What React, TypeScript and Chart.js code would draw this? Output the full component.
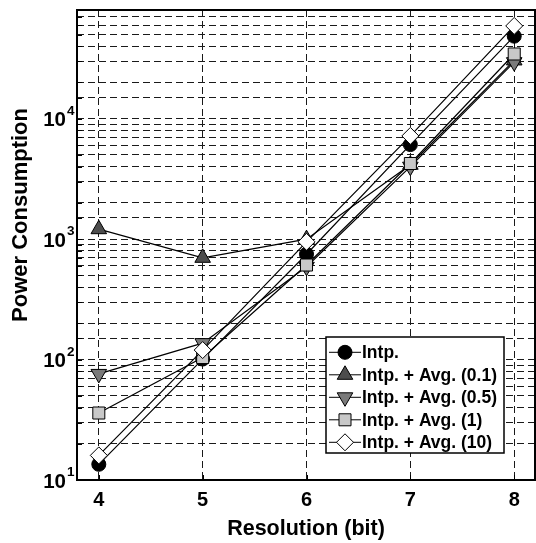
import React, { useEffect, useRef } from 'react';
import { Chart, registerables } from 'chart.js';
import { drawPoint } from 'chart.js/helpers';

Chart.register(...registerables);

// ---- data ----
const RESOLUTION = [4, 5, 6, 7, 8];
const INTP = [13.5, 101, 750, 6100, 48500];
const AVG_01 = [1210, 700, 1000, 4150, 30500];
const AVG_05 = [76, 137, 590, 4000, 29500];
const AVG_1 = [36, 104, 610, 4250, 34500];
const AVG_10 = [16, 120, 950, 7200, 59000];
const SERIES_LABELS = [
  'Intp.',
  'Intp. + Avg. (0.1)',
  'Intp. + Avg. (0.5)',
  'Intp. + Avg. (1)',
  'Intp. + Avg. (10)',
];
const Y_TICK_EXPONENTS = [1, 2, 3, 4];
const X_TITLE = 'Resolution (bit)';
const Y_TITLE = 'Power Consumption';

// ---- styles ----
const FONT = '"Liberation Sans", Arial, Helvetica, sans-serif';
const MARKERS = [
  { pointStyle: 'circle', rotation: 0, radius: 7, fill: '#000000' },
  { pointStyle: 'triangle', rotation: 0, radius: 9, fill: '#4d4d4d' },
  { pointStyle: 'triangle', rotation: 180, radius: 9, fill: '#7a7a7a' },
  { pointStyle: 'rect', rotation: 0, radius: 8.5, fill: '#c8c8c8' },
  { pointStyle: 'rectRot', rotation: 0, radius: 8.5, fill: '#ffffff' },
];
const SERIES = [INTP, AVG_01, AVG_05, AVG_1, AVG_10];

const decorPlugin = {
  id: 'decor',
  afterDraw(chart: any) {
    const { ctx, chartArea: ca, scales } = chart;
    const ys = scales.y;
    const xs = scales.x;
    ctx.save();
    ctx.strokeStyle = '#000';
    ctx.lineWidth = 1;
    ctx.setLineDash([]);
    // inner tick marks
    ys.ticks.forEach((t: any) => {
      const py = Math.round(ys.getPixelForValue(t.value)) + 0.5;
      ctx.beginPath();
      ctx.moveTo(ca.left, py);
      ctx.lineTo(ca.left + 5, py);
      ctx.stroke();
    });
    xs.ticks.forEach((t: any) => {
      const px = Math.round(xs.getPixelForValue(t.value)) + 0.5;
      ctx.beginPath();
      ctx.moveTo(px, ca.bottom);
      ctx.lineTo(px, ca.bottom - 5);
      ctx.stroke();
    });
    // frame
    ctx.lineWidth = 2;
    ctx.strokeRect(ca.left, ca.top, ca.right - ca.left, ca.bottom - ca.top);

    // y tick labels 10^n
    ctx.fillStyle = '#000';
    Y_TICK_EXPONENTS.forEach((p) => {
      const py = ys.getPixelForValue(Math.pow(10, p));
      ctx.font = `bold 20.5px ${FONT}`;
      ctx.textAlign = 'right';
      ctx.textBaseline = 'alphabetic';
      ctx.fillText('10', ca.left - 11, py + 7.5);
      ctx.font = `bold 13.5px ${FONT}`;
      ctx.textAlign = 'left';
      ctx.fillText(String(p), ca.left - 10, py - 4);
    });

    // y title
    ctx.save();
    ctx.translate(27, 215);
    ctx.rotate(-Math.PI / 2);
    ctx.font = `bold 22px ${FONT}`;
    ctx.textAlign = 'center';
    ctx.textBaseline = 'alphabetic';
    ctx.fillText(Y_TITLE, 0, 0);
    ctx.restore();

    // legend
    const bx = 326, by = 337, bw = 178, bh = 116;
    ctx.fillStyle = '#fff';
    ctx.fillRect(bx, by, bw, bh);
    ctx.lineWidth = 1.5;
    ctx.strokeStyle = '#000';
    ctx.strokeRect(bx, by, bw, bh);
    chart.data.datasets.forEach((ds: any, i: number) => {
      const ry = by + 15.3 + i * 22.5;
      ctx.lineWidth = 1;
      ctx.strokeStyle = '#000';
      ctx.beginPath();
      ctx.moveTo(bx + 3, ry);
      ctx.lineTo(bx + 35, ry);
      ctx.stroke();
      ctx.fillStyle = ds.pointBackgroundColor;
      ctx.strokeStyle = '#000';
      ctx.lineWidth = 1;
      drawPoint(
        ctx,
        {
          pointStyle: ds.pointStyle,
          rotation: ds.pointRotation,
          radius: ds.pointRadius,
          borderWidth: 1,
        } as any,
        bx + 19,
        ry
      );
      ctx.fillStyle = '#000';
      ctx.font = `bold 17.5px ${FONT}`;
      ctx.textAlign = 'left';
      ctx.textBaseline = 'middle';
      ctx.fillText(ds.label, bx + 36, ry + 1);
    });
    ctx.restore();
  },
};

export default function App() {
  const canvasRef = useRef<HTMLCanvasElement | null>(null);

  useEffect(() => {
    const canvas = canvasRef.current;
    if (!canvas) return;
    const datasets = SERIES.map((vals, i) => ({
      label: SERIES_LABELS[i],
      data: RESOLUTION.map((x, j) => ({ x, y: vals[j] })),
      borderColor: '#000',
      borderWidth: 1.2,
      pointStyle: MARKERS[i].pointStyle,
      pointRotation: MARKERS[i].rotation,
      pointRadius: MARKERS[i].radius,
      pointHoverRadius: MARKERS[i].radius,
      pointBackgroundColor: MARKERS[i].fill,
      pointBorderColor: '#000',
      pointBorderWidth: 1,
      tension: 0,
      fill: false,
      order: SERIES.length - i,
    }));

    const chart = new Chart(canvas, {
      type: 'line',
      data: { datasets } as any,
      options: {
        animation: false,
        responsive: false,
        devicePixelRatio: 1,
        layout: { padding: { top: 7, right: 5, left: 0, bottom: 0 } },
        plugins: {
          legend: { display: false },
          tooltip: { enabled: false },
        },
        scales: {
          x: {
            type: 'linear',
            min: 3.79,
            max: 8.2,
            afterBuildTicks: (s: any) => {
              s.ticks = RESOLUTION.map((v) => ({ value: v }));
            },
            afterFit: (s: any) => {
              s.height = 63;
            },
            grid: { color: '#1a1a1a', lineWidth: 1, drawTicks: false },
            border: { display: false, dash: [7, 4] },
            ticks: {
              color: '#000',
              font: { family: FONT, size: 20, weight: 'bold' },
              padding: 8,
              callback: (v: any) => String(v),
            },
            title: {
              display: true,
              text: X_TITLE,
              color: '#000',
              font: { family: FONT, size: 21.5, weight: 'bold' },
              padding: { top: 0, bottom: 1 },
            },
          },
          y: {
            type: 'logarithmic',
            min: 10,
            max: 80000,
            afterFit: (s: any) => {
              s.width = 77;
            },
            grid: { color: '#1a1a1a', lineWidth: 1, drawTicks: false },
            border: { display: false, dash: [7, 4] },
            ticks: { display: false, autoSkip: false },
          },
        },
      } as any,
      plugins: [decorPlugin],
    });
    return () => chart.destroy();
  }, []);

  return (
    <div
      style={{
        position: 'absolute',
        left: 0,
        top: 0,
        width: 536,
        height: 543,
        overflow: 'hidden',
        background: '#fff',
      }}
    >
      <canvas ref={canvasRef} width={545} height={543} style={{ display: 'block' }} />
    </div>
  );
}
